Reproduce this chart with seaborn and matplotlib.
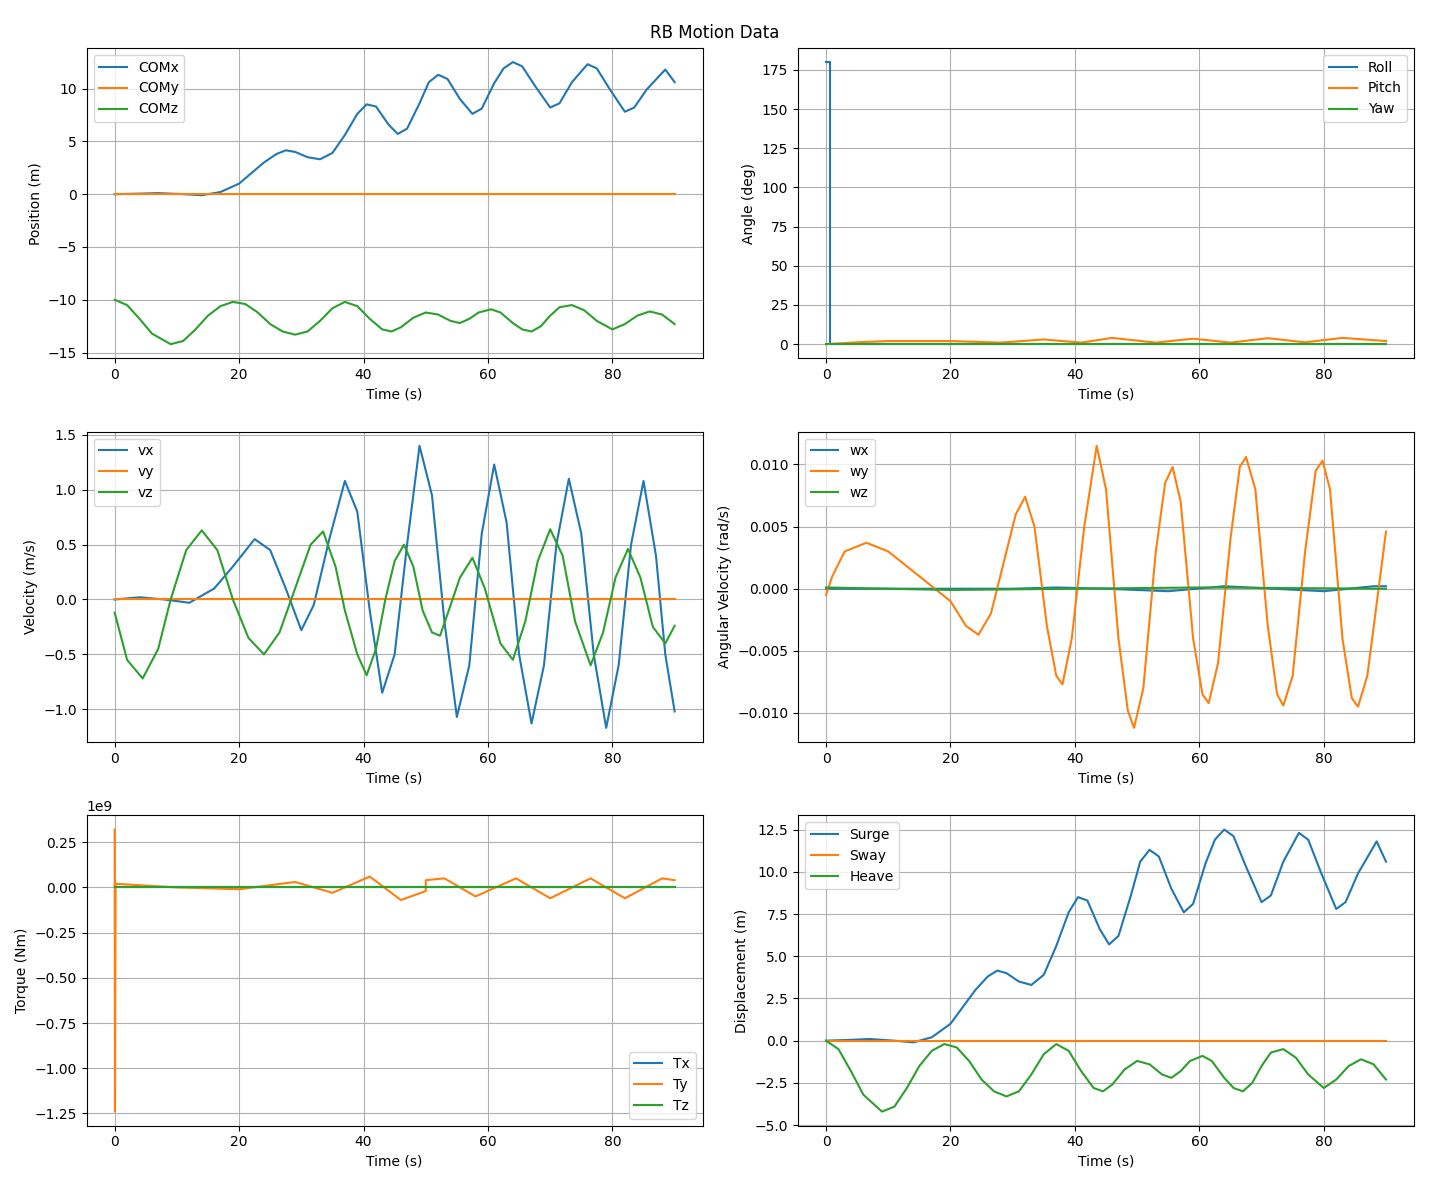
import numpy as np
import pandas as pd
import matplotlib
matplotlib.use("Agg")
import matplotlib.pyplot as plt
import seaborn as sns

# values (time s, value)
comx_t = [0, 4, 7, 11, 14, 17, 20, 22, 24, 26, 27.5, 29, 31, 33, 35, 37, 39, 40.5, 42, 44, 45.5, 47, 49, 50.5, 52, 53.5, 55.5, 57.5, 59, 61, 62.5, 64, 65.5, 67.5, 70, 71.5, 73.5, 76, 77.5, 79.5, 82, 83.5, 85.5, 88.5, 90]
comx_v = [0, 0.05, 0.1, 0, -0.1, 0.2, 1.0, 2.0, 3.0, 3.8, 4.15, 4.0, 3.5, 3.3, 3.9, 5.6, 7.6, 8.5, 8.3, 6.6, 5.7, 6.2, 8.6, 10.6, 11.3, 10.9, 9.0, 7.6, 8.1, 10.5, 11.9, 12.5, 12.1, 10.3, 8.2, 8.6, 10.6, 12.3, 11.9, 10.0, 7.8, 8.2, 9.9, 11.8, 10.6]
comz_t = [0, 2, 4, 6, 9, 11, 13, 15, 17, 19, 21, 23, 25, 27, 29, 31, 33, 35, 37, 39, 41, 43, 44.5, 46, 48, 50, 52, 54, 55.5, 57, 58.5, 60.5, 62, 64, 65.5, 67, 68.5, 70, 71.5, 73.5, 75.5, 77.5, 80, 82, 84, 86, 88, 90]
comz_v = [-10, -10.5, -11.8, -13.2, -14.2, -13.9, -12.8, -11.5, -10.6, -10.2, -10.4, -11.2, -12.3, -13.0, -13.3, -13.0, -12.0, -10.8, -10.2, -10.6, -11.8, -12.8, -13.0, -12.6, -11.7, -11.2, -11.4, -12.0, -12.2, -11.8, -11.2, -10.9, -11.2, -12.2, -12.8, -13.0, -12.5, -11.5, -10.7, -10.5, -11.0, -12.0, -12.8, -12.3, -11.5, -11.1, -11.4, -12.3]

pitch_t = [0, 5, 10, 20, 28, 35, 41, 46, 53, 59, 65, 71, 77, 83, 90]
pitch_v = [0, 1.2, 2.0, 2.0, 1.0, 3.0, 1.0, 4.0, 1.0, 3.5, 1.0, 3.8, 1.2, 4.0, 2.0]
roll_t = [0, 0.6, 0.6, 90]
roll_v = [180, 180, 0, 0]

vx_t = [0, 4, 8, 12, 16, 19, 22.5, 25, 27.5, 30, 32, 34.5, 37, 39, 41, 43, 45, 47, 49, 51, 53, 55, 57, 59, 61, 63, 65, 67, 69, 71, 73, 75, 77, 79, 81, 83, 85, 87, 88.5, 90]
vx_v = [0, 0.02, 0, -0.03, 0.1, 0.3, 0.55, 0.45, 0.1, -0.28, -0.05, 0.55, 1.08, 0.8, -0.1, -0.85, -0.5, 0.5, 1.4, 0.95, -0.2, -1.07, -0.6, 0.6, 1.23, 0.7, -0.5, -1.13, -0.6, 0.5, 1.1, 0.6, -0.5, -1.17, -0.6, 0.5, 1.08, 0.4, -0.5, -1.02]
vz_t = [0, 2, 4.5, 7, 9, 11.5, 14, 16.5, 19, 21.5, 24, 26.5, 29, 31.5, 33.5, 35.5, 37, 39, 40.5, 42, 43.5, 45, 46.5, 48, 49.5, 51, 52.3, 54, 55.5, 57.5, 59.5, 62, 64, 66, 68, 70, 72, 74, 76.5, 78.5, 80.5, 82.5, 84.5, 86.5, 88.5, 90]
vz_v = [-0.12, -0.55, -0.72, -0.45, 0, 0.45, 0.63, 0.45, 0, -0.35, -0.5, -0.3, 0.1, 0.5, 0.62, 0.3, -0.1, -0.5, -0.69, -0.45, 0, 0.35, 0.5, 0.3, -0.1, -0.3, -0.33, -0.05, 0.2, 0.38, 0.1, -0.4, -0.55, -0.2, 0.35, 0.64, 0.4, -0.2, -0.6, -0.3, 0.2, 0.46, 0.2, -0.25, -0.4, -0.24]

wy_t = [0, 1, 3, 6.5, 10, 15, 20, 22.5, 24.5, 26.5, 28.5, 30.5, 32, 33.5, 35.5, 37, 38, 39.5, 41.5, 43.5, 45, 47, 48.5, 49.5, 51, 53, 54.5, 55.7, 57, 59, 60.5, 61.5, 63, 65, 66.5, 67.5, 69, 71, 72.5, 73.5, 75, 77, 78.7, 79.8, 81, 83, 84.5, 85.5, 87, 90]
wy_v = [-0.0005, 0.001, 0.003, 0.0037, 0.003, 0.001, -0.001, -0.003, -0.0037, -0.002, 0.002, 0.006, 0.0074, 0.005, -0.003, -0.007, -0.0077, -0.004, 0.005, 0.0115, 0.008, -0.004, -0.0098, -0.0112, -0.008, 0.003, 0.0085, 0.0098, 0.007, -0.004, -0.0085, -0.0092, -0.006, 0.004, 0.0098, 0.0106, 0.008, -0.003, -0.0085, -0.0094, -0.007, 0.003, 0.0095, 0.0103, 0.008, -0.004, -0.0088, -0.0095, -0.007, 0.0046]
wx_t = [0, 30, 37, 45, 55, 64, 72, 80, 88, 90]
wx_v = [0, 0, 0.0001, 0, -0.0002, 0.0002, 0, -0.0002, 0.0002, 0.0002]
wz_t = [0, 20, 40, 60, 90]
wz_v = [0.0001, -0.0001, 0, 0.0001, 0]

ty_t = [0, 0.05, 0.15, 5, 10, 20, 29, 35, 41, 46, 50, 50, 53, 58, 64.5, 70, 76.5, 82, 88, 90]
ty_v = [0.32, -1.24, 0.02, 0.01, 0, -0.01, 0.03, -0.03, 0.06, -0.07, -0.02, 0.04, 0.05, -0.05, 0.05, -0.06, 0.05, -0.06, 0.05, 0.04]

t_flat = [0, 90]
zero = [0, 0]


def line(ax, t, v, label, color):
    sns.lineplot(x=t, y=v, ax=ax, label=label, color=color, sort=False,
                 estimator=None, linewidth=1.5)


C = ["#1f77b4", "#ff7f0e", "#2ca02c"]
fig, axes = plt.subplots(3, 2, figsize=(14.29, 11.84))

ax = axes[0, 0]
line(ax, comx_t, comx_v, "COMx", C[0])
line(ax, t_flat, zero, "COMy", C[1])
line(ax, comz_t, comz_v, "COMz", C[2])
ax.set_ylabel("Position (m)")
ax.legend(loc="upper left")

ax = axes[0, 1]
line(ax, roll_t, roll_v, "Roll", C[0])
line(ax, pitch_t, pitch_v, "Pitch", C[1])
line(ax, t_flat, zero, "Yaw", C[2])
ax.set_ylabel("Angle (deg)")
ax.legend(loc="upper right")

ax = axes[1, 0]
line(ax, vx_t, vx_v, "vx", C[0])
line(ax, t_flat, zero, "vy", C[1])
line(ax, vz_t, vz_v, "vz", C[2])
ax.set_ylabel("Velocity (m/s)")
ax.legend(loc="upper left")

ax = axes[1, 1]
line(ax, wx_t, wx_v, "wx", C[0])
line(ax, wy_t, wy_v, "wy", C[1])
line(ax, wz_t, wz_v, "wz", C[2])
ax.set_ylabel("Angular Velocity (rad/s)")
ax.legend(loc="upper left")

ax = axes[2, 0]
line(ax, t_flat, zero, "Tx", C[0])
line(ax, ty_t, np.array(ty_v) * 1e9, "Ty", C[1])
line(ax, t_flat, zero, "Tz", C[2])
ax.set_ylabel("Torque (Nm)")
ax.set_yticks(np.arange(-1.25, 0.26, 0.25) * 1e9)
ax.legend(loc="lower right")

ax = axes[2, 1]
line(ax, comx_t, comx_v, "Surge", C[0])
line(ax, t_flat, zero, "Sway", C[1])
line(ax, comz_t, np.array(comz_v) + 10, "Heave", C[2])
ax.set_ylabel("Displacement (m)")
ax.legend(loc="upper left")

for ax in axes.flat:
    ax.set_xlabel("Time (s)")
    ax.set_xticks([0, 20, 40, 60, 80])
    ax.grid(True)

fig.suptitle("RB Motion Data", fontsize=12)
fig.tight_layout()
fig.savefig("out.png", dpi=100)
